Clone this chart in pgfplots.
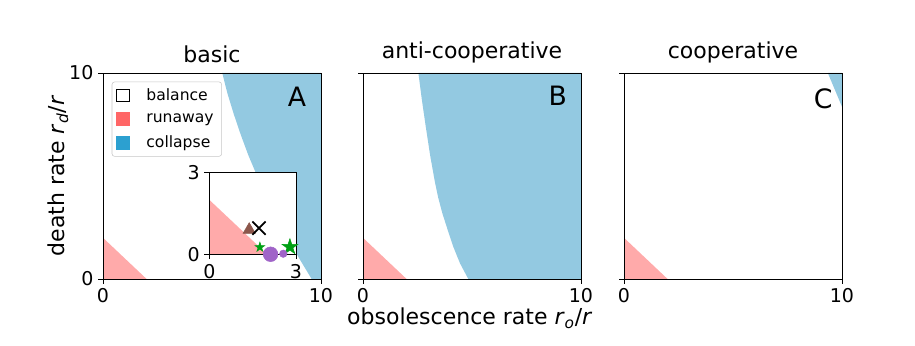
\documentclass[border=0pt]{standalone}
\usepackage{fontspec}
\setmainfont{DejaVu Sans}
\usepackage{pgfplots}
\pgfplotsset{compat=1.18}
\definecolor{runfill}{RGB}{255,170,170}
\definecolor{runleg}{RGB}{255,102,102}
\definecolor{colfill}{RGB}{147,201,225}
\definecolor{colleg}{RGB}{44,160,208}
\definecolor{tabbrown}{RGB}{140,86,75}
\definecolor{tabpurple}{RGB}{160,100,200}
\definecolor{stargreen}{RGB}{0,160,20}
\pgfdeclareplotmark{fstar}{%
  \pgfpathmoveto{\pgfpointpolar{90}{\pgfplotmarksize}}%
  \pgfpathlineto{\pgfpointpolar{126}{0.382\pgfplotmarksize}}%
  \pgfpathlineto{\pgfpointpolar{162}{\pgfplotmarksize}}%
  \pgfpathlineto{\pgfpointpolar{198}{0.382\pgfplotmarksize}}%
  \pgfpathlineto{\pgfpointpolar{234}{\pgfplotmarksize}}%
  \pgfpathlineto{\pgfpointpolar{270}{0.382\pgfplotmarksize}}%
  \pgfpathlineto{\pgfpointpolar{306}{\pgfplotmarksize}}%
  \pgfpathlineto{\pgfpointpolar{342}{0.382\pgfplotmarksize}}%
  \pgfpathlineto{\pgfpointpolar{18}{\pgfplotmarksize}}%
  \pgfpathlineto{\pgfpointpolar{54}{0.382\pgfplotmarksize}}%
  \pgfpathclose\pgfusepathqfillstroke}
\tikzset{letter/.style={font=\fontsize{20}{23}\selectfont, anchor=center}}
\pgfplotsset{
  panel/.style={
    scale only axis, width=163.5pt, height=154.5pt,
    anchor=south west,
    xmin=0, xmax=10, ymin=0, ymax=10,
    xtick={0,10}, ytick={0,10},
    tick align=outside, major tick length=3.7pt,
    xtick pos=left, ytick pos=left,
    tick style={black, line width=0.6pt},
    axis line style={line width=0.6pt},
    tick label style={font=\fontsize{14.25}{16}\selectfont},
    /pgf/number format/assume math mode=true,
    title style={font=\fontsize{16.5}{19}\selectfont, yshift=-2pt},
    label style={font=\fontsize{16.5}{19}\selectfont},
    axis on top,
  },
}
\begin{document}
\begin{tikzpicture}
\path (0,0) rectangle (686.25pt,259.5pt);
% ---------- A: basic ----------
\begin{axis}[panel, at={(77.25pt,50.25pt)}, title={basic},
  ylabel={death rate \textit{r}\textsubscript{\textit{d}}/\textit{r}},
  ylabel style={at={(axis description cs:-0.206,0.5)}, anchor=center},
  legend style={at={(0.04,0.958)}, anchor=north west, draw=black!22,
    rounded corners=2pt,
    row sep=4.5pt, inner xsep=2pt, inner ysep=3pt,
    nodes={font=\fontsize{11.7}{13}\selectfont, inner xsep=4pt}},
  legend cell align=left]
\addlegendimage{legend image code/.code={\draw[sharp corners, black, line width=0.6pt, fill=white] (0pt,-4.6pt) rectangle (10pt,4.8pt);\path[draw=none, fill=none] (-1.3pt,0) -- (18.5pt,0);}}
\addlegendentry{balance}
\addlegendimage{legend image code/.code={\fill[sharp corners, runleg] (0pt,-4.6pt) rectangle (10pt,4.8pt);\path[draw=none, fill=none] (-1.3pt,0) -- (18.5pt,0);}}
\addlegendentry{runaway}
\addlegendimage{legend image code/.code={\fill[sharp corners, colleg] (0pt,-4.6pt) rectangle (10pt,4.8pt);\path[draw=none, fill=none] (-1.3pt,0) -- (18.5pt,0);}}
\addlegendentry{collapse}
\addplot[fill=runfill, draw=none, forget plot] coordinates {(0,0) (2,0) (0,2) (0,0)};
\addplot[fill=colfill, draw=none, forget plot] coordinates {
 (9.57,0) (9.00,1) (8.46,2) (7.96,3) (7.49,4) (7.07,5) (6.67,6) (6.32,7) (6.00,8) (5.71,9) (5.47,10) (10,10) (10,0) (9.57,0)};
\node[letter] at (rel axis cs:0.89,0.885) {A};
\end{axis}
% ---------- inset ----------
\begin{axis}[panel, at={(157pt,68.8pt)}, width=65pt, height=61.2pt,
  xmin=0, xmax=3, ymin=0, ymax=3, xtick={0,3}, ytick={0,3},
  axis background/.style={fill=white}, clip=false]
\addplot[fill=runfill, draw=none] coordinates {(0,0) (2,0) (0,2) (0,0)};
\addplot[only marks, mark=triangle*, mark size=5.3pt, color=tabbrown] coordinates {(1.38,0.90)};
\addplot[only marks, mark=x, mark size=7pt, line width=1.3pt, color=black] coordinates {(1.72,0.96)};
\addplot[only marks, mark=fstar, mark size=3.8pt, color=stargreen] coordinates {(1.75,0.26)};
\addplot[only marks, mark=fstar, mark size=6.2pt, color=stargreen] coordinates {(2.79,0.27)};
\addplot[only marks, mark=*, mark size=5.5pt, color=tabpurple] coordinates {(2.12,0.0)};
\addplot[only marks, mark=*, mark size=2.8pt, color=tabpurple] coordinates {(2.56,0.02)};
\end{axis}
% ---------- B: anti-cooperative ----------
\begin{axis}[panel, at={(272.25pt,50.25pt)}, title={anti-cooperative},
  yticklabels={},
  xlabel={obsolescence rate \textit{r}\textsubscript{\textit{o}}/\textit{r}},
  xlabel style={at={(axis description cs:0.49,-0.19)}, anchor=center}]
\addplot[fill=runfill, draw=none] coordinates {(0,0) (2,0) (0,2) (0,0)};
\addplot[fill=colfill, draw=none] coordinates {
 (4.83,0) (4.45,0.76) (4.14,1.57) (3.88,2.4) (3.64,3.19) (3.45,3.95) (3.30,4.7) (3.08,6.0) (2.88,7.39) (2.70,8.7) (2.54,10) (10,10) (10,0) (4.83,0)};
\node[letter] at (rel axis cs:0.894,0.89) {B};
\end{axis}
% ---------- C: cooperative ----------
\begin{axis}[panel, at={(468pt,50.25pt)}, title={cooperative},
  yticklabels={}]
\addplot[fill=runfill, draw=none] coordinates {(0,0) (2,0) (0,2) (0,0)};
\addplot[fill=colfill, draw=none] coordinates {(9.35,10) (10,10) (10,8.36) (9.35,10)};
\node[letter] at (rel axis cs:0.914,0.877) {C};
\end{axis}
\end{tikzpicture}
\end{document}
